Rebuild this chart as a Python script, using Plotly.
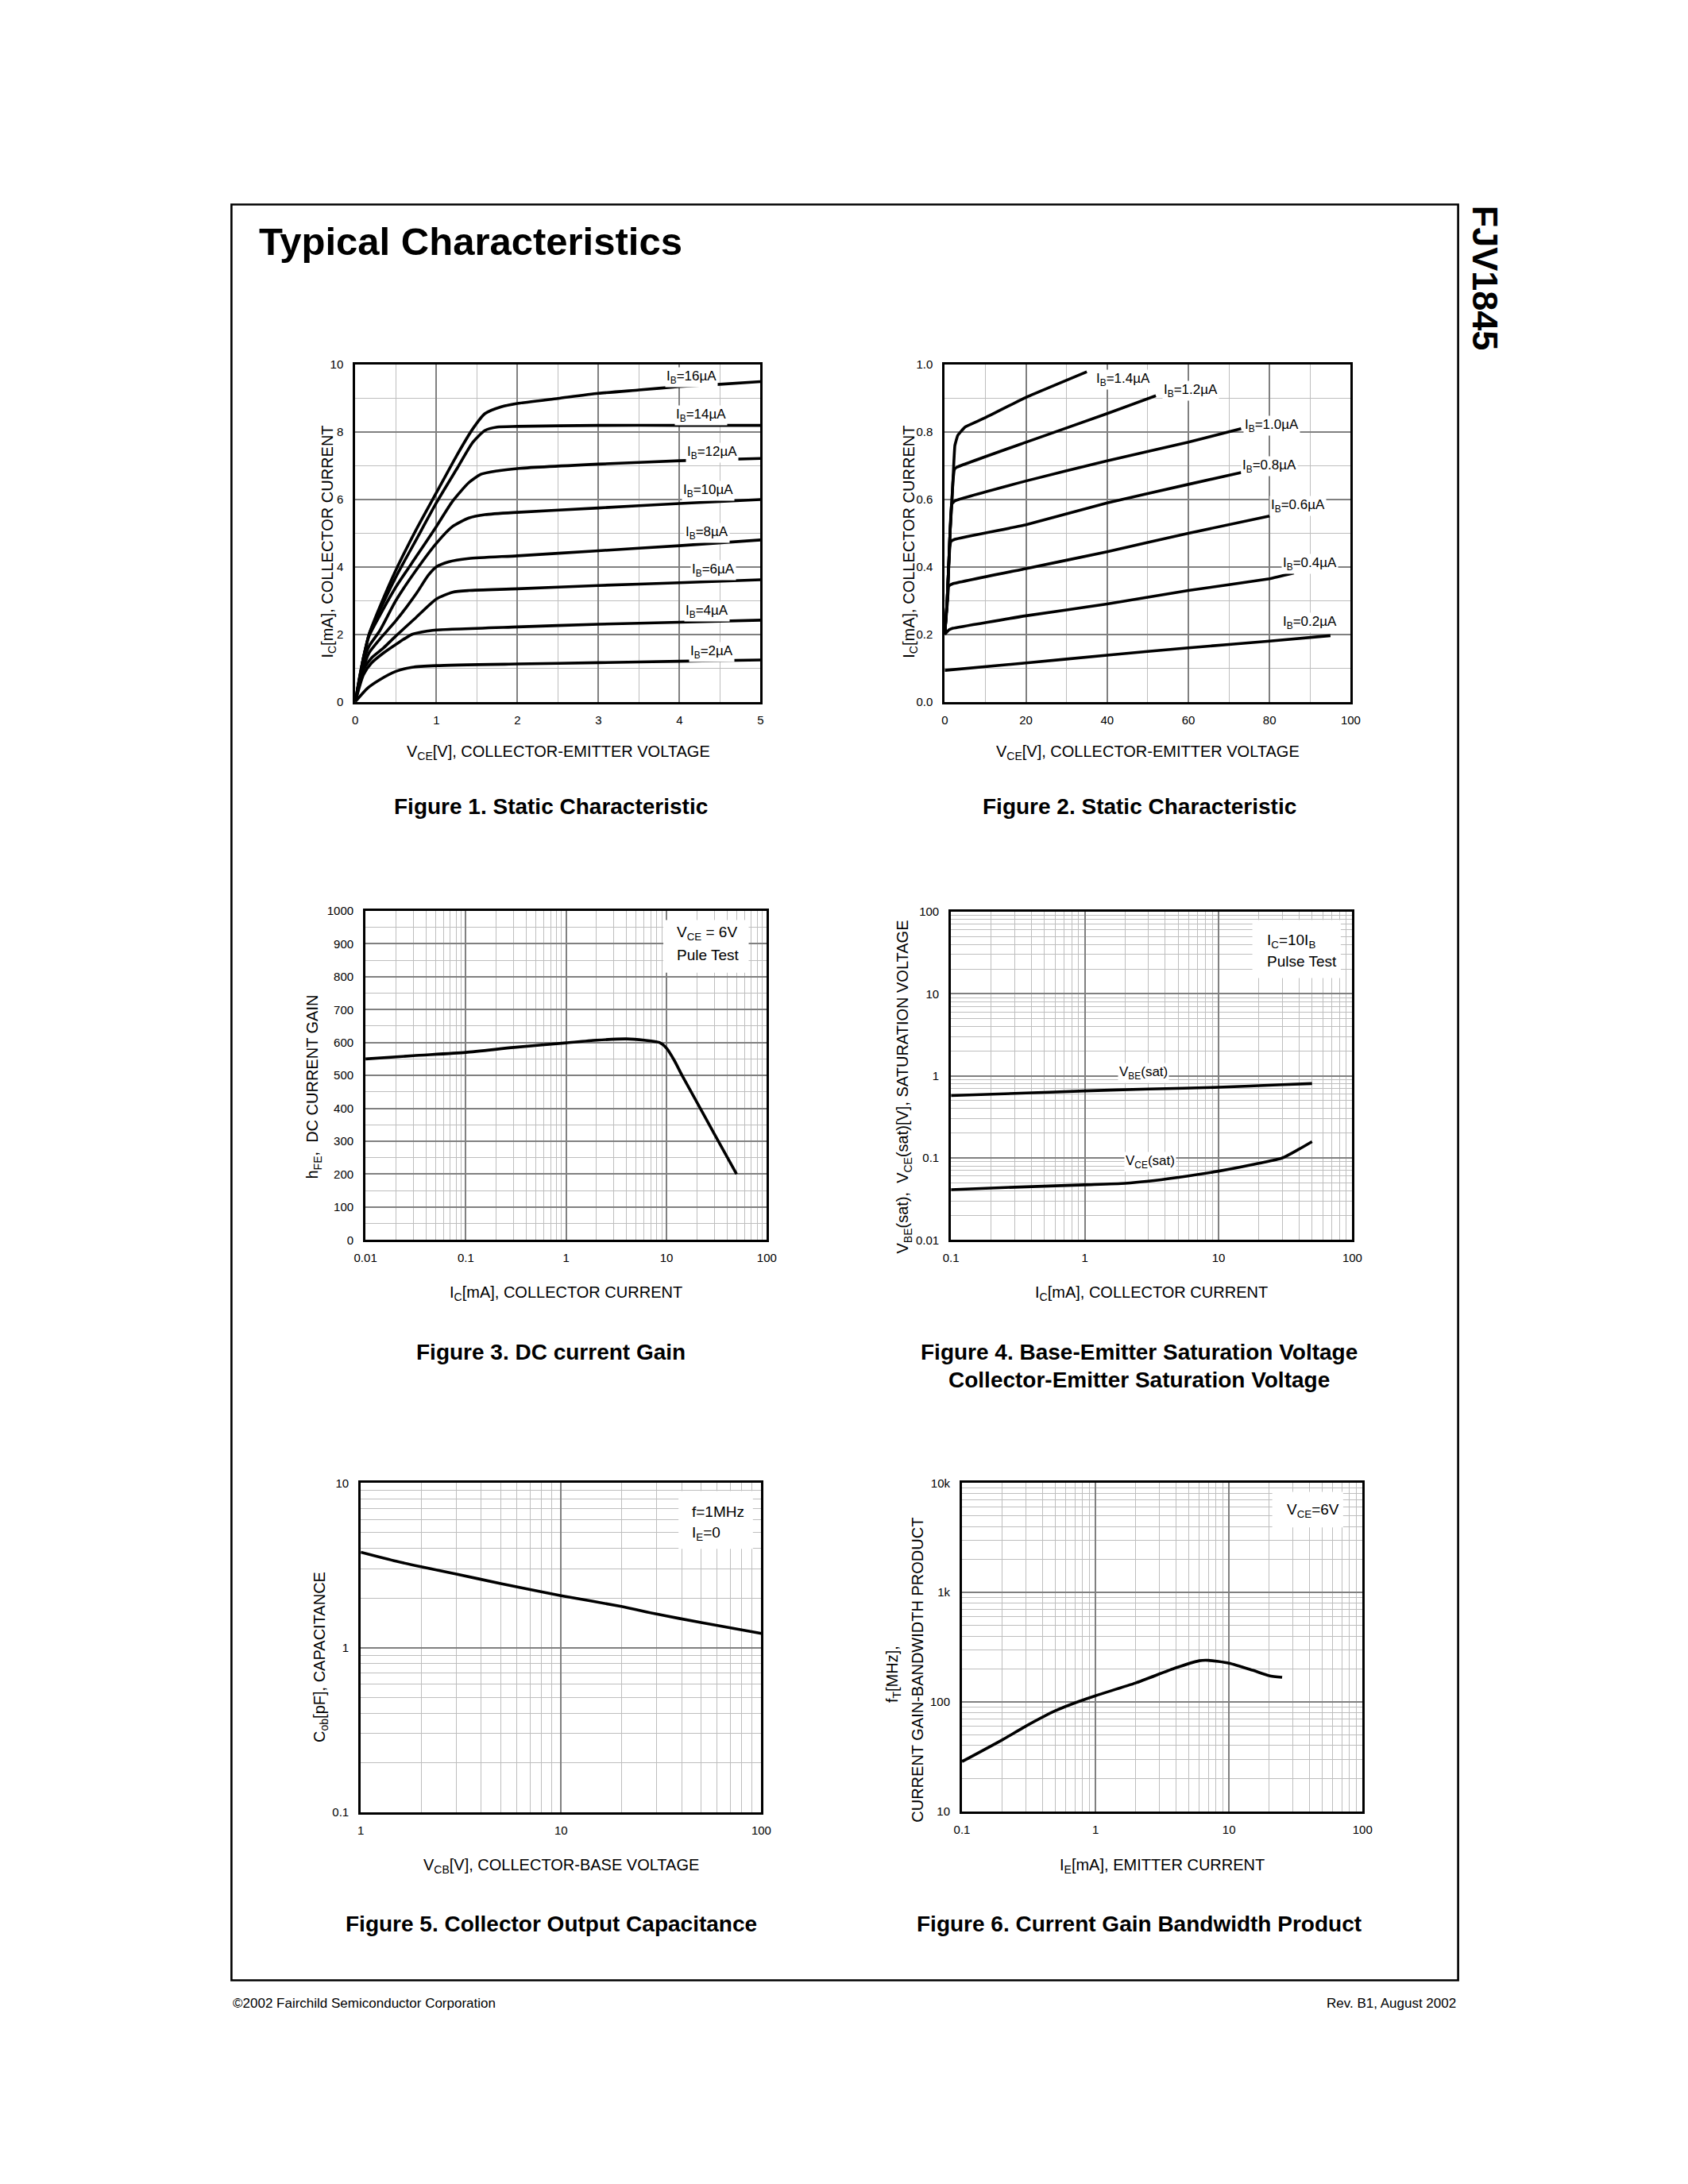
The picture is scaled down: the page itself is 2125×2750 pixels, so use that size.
import math
import plotly.graph_objects as go

PAGE_W, PAGE_H = 2125, 2750
OFF = 8  # default body margin of the page around the figure
W, H = PAGE_W - 2 * OFF, PAGE_H - 2 * OFF
FONT = "Liberation Sans, Arial, sans-serif"

# ---------------- Figure 1 data: IC vs VCE (0..5 V) ----------------
F1_VCE_16 = [0, 0.05, 0.1, 0.17, 0.3, 0.5, 0.75, 1.0, 1.25, 1.45, 1.6, 1.8, 2.0, 2.5, 3, 3.5, 4, 4.5, 5]
F1_IC_16 = [0, 0.7, 1.3, 2.0, 2.8, 3.9, 5.1, 6.2, 7.3, 8.1, 8.55, 8.75, 8.85, 9.0, 9.15, 9.25, 9.35, 9.42, 9.5]
F1_VCE_14 = [0, 0.1, 0.17, 0.3, 0.5, 0.75, 1.0, 1.25, 1.45, 1.6, 1.75, 2.0, 3, 4, 5]
F1_IC_14 = [0, 1.3, 2.0, 2.7, 3.7, 4.8, 5.9, 6.9, 7.7, 8.05, 8.15, 8.17, 8.2, 8.2, 8.2]
F1_VCE_12 = [0, 0.1, 0.17, 0.3, 0.5, 0.75, 1.0, 1.2, 1.4, 1.55, 1.75, 2.0, 3, 4, 5]
F1_IC_12 = [0, 1.3, 1.95, 2.55, 3.4, 4.3, 5.2, 5.95, 6.5, 6.75, 6.85, 6.92, 7.05, 7.15, 7.22]
F1_VCE_10 = [0, 0.1, 0.17, 0.3, 0.5, 0.75, 1.0, 1.2, 1.4, 1.6, 2.0, 3, 4, 5]
F1_IC_10 = [0, 1.2, 1.65, 2.1, 3.0, 3.9, 4.7, 5.2, 5.45, 5.55, 5.62, 5.75, 5.88, 6.0]
F1_VCE_8 = [0, 0.1, 0.17, 0.3, 0.5, 0.75, 0.9, 1.0, 1.15, 1.4, 2, 3, 4, 5]
F1_IC_8 = [0, 1.0, 1.45, 1.85, 2.4, 3.2, 3.75, 4.0, 4.15, 4.25, 4.33, 4.48, 4.63, 4.8]
F1_VCE_6 = [0, 0.1, 0.2, 0.35, 0.5, 0.75, 1.0, 1.2, 1.4, 2, 3, 4, 5]
F1_IC_6 = [0, 0.95, 1.3, 1.6, 1.95, 2.5, 3.05, 3.25, 3.3, 3.35, 3.45, 3.53, 3.62]
F1_VCE_4 = [0, 0.1, 0.2, 0.35, 0.5, 0.7, 0.9, 1.0, 2, 3, 4, 5]
F1_IC_4 = [0, 0.8, 1.15, 1.45, 1.7, 2.0, 2.1, 2.13, 2.22, 2.3, 2.36, 2.42]
F1_VCE_2 = [0, 0.15, 0.3, 0.5, 0.7, 1.0, 2, 3, 4, 5]
F1_IC_2 = [0, 0.4, 0.65, 0.9, 1.02, 1.07, 1.12, 1.16, 1.2, 1.24]
F1_LABELS = ["16", "14", "12", "10", "8", "6", "4", "2"]
F1_LABEL_X = [4.15, 4.27, 4.4, 4.35, 4.34, 4.42, 4.34, 4.4]
F1_LABEL_Y = [9.62, 8.5, 7.4, 6.27, 5.0, 3.9, 2.68, 1.48]

# ---------------- Figure 2 data: IC vs VCE (0..100 V) ----------------
F2_VCE_14 = [0, 0.6, 1.3, 1.8, 2.2, 2.5, 3.2, 5, 8, 10, 20, 35]
F2_IC_14 = [0.2, 0.3, 0.5, 0.6, 0.7, 0.76, 0.79, 0.815, 0.832, 0.843, 0.903, 0.979]
F2_VCE_12 = [0, 0.6, 1.3, 2.0, 2.4, 3, 20, 40, 52]
F2_IC_12 = [0.2, 0.3, 0.5, 0.65, 0.69, 0.696, 0.77, 0.855, 0.908]
F2_VCE_10 = [0, 0.6, 1.3, 1.7, 2.5, 20, 40, 60, 73]
F2_IC_10 = [0.2, 0.3, 0.5, 0.586, 0.596, 0.655, 0.715, 0.77, 0.81]
F2_VCE_08 = [0, 0.6, 1.2, 1.5, 2.5, 20, 40, 60, 73]
F2_IC_08 = [0.2, 0.3, 0.45, 0.475, 0.482, 0.525, 0.59, 0.645, 0.68]
F2_VCE_06 = [0, 0.7, 1.0, 2, 20, 40, 60, 80]
F2_IC_06 = [0.2, 0.3, 0.343, 0.35, 0.395, 0.445, 0.5, 0.551]
F2_VCE_04 = [0, 1, 2, 20, 40, 60, 80, 86]
F2_IC_04 = [0.2, 0.213, 0.218, 0.255, 0.29, 0.33, 0.365, 0.382]
F2_VCE_02 = [0, 20, 40, 60, 80, 95]
F2_IC_02 = [0.093, 0.115, 0.138, 0.16, 0.18, 0.196]
F2_LABELS = ["1.4", "1.2", "1.0", "0.8", "0.6", "0.4", "0.2"]
F2_LABEL_X = [44, 60.5, 80.5, 80, 87, 90, 90]
F2_LABEL_Y = [0.955, 0.922, 0.818, 0.70, 0.582, 0.41, 0.235]

# ---------------- Figure 3 data: hFE vs IC ----------------
F3_IC = [0.01, 0.03, 0.1, 0.3, 1, 2, 4, 6, 8.5, 10, 12, 14.3, 20, 30, 50]
F3_HFE = [550, 560, 570, 585, 599, 607, 611, 607, 600, 583, 545, 500, 420, 322, 200]

# ---------------- Figure 4 data: saturation voltages vs IC ----------------
F4_IC_BE = [0.1, 0.3, 1, 3, 10, 30, 50]
F4_VBE = [0.575, 0.61, 0.655, 0.69, 0.725, 0.78, 0.805]
F4_IC_CE = [0.1, 0.3, 1, 2, 3, 5, 10, 20, 30, 40, 50]
F4_VCE = [0.041, 0.044, 0.047, 0.049, 0.052, 0.058, 0.069, 0.086, 0.1, 0.128, 0.158]

# ---------------- Figure 5 data: Cob vs VCB ----------------
F5_VCB = [1, 1.5, 2, 3, 5, 10, 20, 30, 50, 100]
F5_COB = [3.8, 3.35, 3.1, 2.8, 2.45, 2.07, 1.78, 1.6, 1.42, 1.22]

# ---------------- Figure 6 data: fT vs IE ----------------
F6_IE = [0.1, 0.2, 0.3, 0.5, 0.7, 1, 2, 4, 6, 7, 10, 15, 20, 25]
F6_FT = [28.5, 45, 60, 83, 98, 114, 149, 205, 238, 240, 226, 195, 174, 168]

# ---------------- tick labels ----------------
F1_XTICKS = [0, 1, 2, 3, 4, 5]
F1_YTICKS = [0, 2, 4, 6, 8, 10]
F2_XTICKS = [0, 20, 40, 60, 80, 100]
F2_YTICKS = [0.0, 0.2, 0.4, 0.6, 0.8, 1.0]
F2_YTICKTEXT = ["0.0", "0.2", "0.4", "0.6", "0.8", "1.0"]
F3_XTICKS = [0.01, 0.1, 1, 10, 100]
F3_XTICKTEXT = ["0.01", "0.1", "1", "10", "100"]
F3_YTICKS = [0, 100, 200, 300, 400, 500, 600, 700, 800, 900, 1000]
F4_XTICKS = [0.1, 1, 10, 100]
F4_XTICKTEXT = ["0.1", "1", "10", "100"]
F4_YTICKS = [0.01, 0.1, 1, 10, 100]
F4_YTICKTEXT = ["0.01", "0.1", "1", "10", "100"]
F5_XTICKS = [1, 10, 100]
F5_XTICKTEXT = ["1", "10", "100"]
F5_YTICKS = [0.1, 1, 10]
F5_YTICKTEXT = ["0.1", "1", "10"]
F6_XTICKS = [0.1, 1, 10, 100]
F6_XTICKTEXT = ["0.1", "1", "10", "100"]
F6_YTICKS = [10, 100, 1000, 10000]
F6_YTICKTEXT = ["10", "100", "1k", "10k"]

# ---------------- layout geometry (page pixels: left, top, right, bottom) ----------------
BOXES = {
    1: (438, 453, 955, 880),
    2: (1190, 453, 1708, 880),
    3: (451, 1145, 963, 1562),
    4: (1198, 1146, 1710, 1562),
    5: (445, 1870, 956, 2287),
    6: (1212, 1870, 1723, 2286),
}

MAJOR = "#808080"
MINOR = "#bebebe"


def xd(px):
    return (px - OFF) / W


def yd(py):
    return 1 - (py - OFF) / H


def log_minors(lo, hi):
    vals = []
    for e in range(lo, hi):
        for m in range(2, 10):
            vals.append(m * 10 ** e)
    return vals


fig = go.Figure()


def curve(x, y, n, smooth=0.6):
    fig.add_trace(go.Scatter(
        x=x, y=y, mode="lines",
        line=dict(color="black", width=3.6, shape="spline", smoothing=smooth),
        xaxis="x" if n == 1 else "x%d" % n,
        yaxis="y" if n == 1 else "y%d" % n,
        showlegend=False, hoverinfo="skip"))


for xs, ys in [(F1_VCE_16, F1_IC_16), (F1_VCE_14, F1_IC_14), (F1_VCE_12, F1_IC_12),
               (F1_VCE_10, F1_IC_10), (F1_VCE_8, F1_IC_8), (F1_VCE_6, F1_IC_6),
               (F1_VCE_4, F1_IC_4), (F1_VCE_2, F1_IC_2)]:
    curve(xs, ys, 1)
for xs, ys in [(F2_VCE_14, F2_IC_14), (F2_VCE_12, F2_IC_12), (F2_VCE_10, F2_IC_10),
               (F2_VCE_08, F2_IC_08), (F2_VCE_06, F2_IC_06), (F2_VCE_04, F2_IC_04),
               (F2_VCE_02, F2_IC_02)]:
    curve(xs, ys, 2, smooth=0.3)
curve(F3_IC, F3_HFE, 3)
curve(F4_IC_BE, F4_VBE, 4)
curve(F4_IC_CE, F4_VCE, 4)
curve(F5_VCB, F5_COB, 5)
curve(F6_IE, F6_FT, 6)

TICKFONT = dict(family=FONT, size=15, color="black")
MINOR_STYLE = dict(showgrid=True, gridcolor=MINOR, gridwidth=1.2)


def axis_common():
    return dict(showline=True, linecolor="black", linewidth=3, mirror=True,
                showgrid=True, gridcolor=MAJOR, gridwidth=2.4, zeroline=False,
                ticks="", tickfont=TICKFONT, fixedrange=True, layer="below traces")


layout_axes = {}
for n, (l, t, r, b) in BOXES.items():
    xa = axis_common()
    ya = axis_common()
    xa.update(domain=[xd(l), xd(r)], anchor="y" if n == 1 else "y%d" % n, ticklabelstandoff=7)
    ya.update(domain=[yd(b), yd(t)], anchor="x" if n == 1 else "x%d" % n, ticklabelstandoff=9)
    layout_axes[n] = (xa, ya)

# figure 1
xa, ya = layout_axes[1]
xa.update(range=[0, 5], tickvals=F1_XTICKS, minor=dict(dtick=0.5, **MINOR_STYLE))
ya.update(range=[0, 10], tickvals=F1_YTICKS, minor=dict(dtick=1, **MINOR_STYLE))
# figure 2
xa, ya = layout_axes[2]
xa.update(range=[0, 100], tickvals=F2_XTICKS, minor=dict(dtick=10, **MINOR_STYLE))
ya.update(range=[0, 1.0], tickvals=F2_YTICKS, ticktext=F2_YTICKTEXT,
          minor=dict(dtick=0.1, **MINOR_STYLE))
# figure 3
xa, ya = layout_axes[3]
xa.update(type="log", range=[-2, 2], tickvals=F3_XTICKS, ticktext=F3_XTICKTEXT,
          minor=dict(tickvals=log_minors(-2, 2), **MINOR_STYLE))
ya.update(range=[0, 1000], tickvals=F3_YTICKS, minor=dict(dtick=50, **MINOR_STYLE))
# figure 4
xa, ya = layout_axes[4]
xa.update(type="log", range=[-1, 2], tickvals=F4_XTICKS, ticktext=F4_XTICKTEXT,
          minor=dict(tickvals=log_minors(-1, 2), **MINOR_STYLE))
ya.update(type="log", range=[-2, 2], tickvals=F4_YTICKS, ticktext=F4_YTICKTEXT,
          minor=dict(tickvals=log_minors(-2, 2), **MINOR_STYLE))
# figure 5
xa, ya = layout_axes[5]
xa.update(type="log", range=[0, 2], tickvals=F5_XTICKS, ticktext=F5_XTICKTEXT,
          minor=dict(tickvals=log_minors(0, 2), **MINOR_STYLE))
ya.update(type="log", range=[-1, 1], tickvals=F5_YTICKS, ticktext=F5_YTICKTEXT,
          minor=dict(tickvals=log_minors(-1, 1), **MINOR_STYLE))
# figure 6
xa, ya = layout_axes[6]
xa.update(type="log", range=[-1, 2], tickvals=F6_XTICKS, ticktext=F6_XTICKTEXT,
          minor=dict(tickvals=log_minors(-1, 2), **MINOR_STYLE))
ya.update(type="log", range=[1, 4], tickvals=F6_YTICKS, ticktext=F6_YTICKTEXT,
          minor=dict(tickvals=log_minors(1, 4), **MINOR_STYLE))

annotations = []
shapes = []


def txt(x, y, text, size, bold=False, xanchor="center", yanchor="middle", angle=0,
        xref="paper", yref="paper", bg=None, align="center"):
    if bold:
        text = "<b>" + text + "</b>"
    a = dict(x=x, y=y, xref=xref, yref=yref, text=text, showarrow=False,
             font=dict(family=FONT, size=size, color="black"),
             xanchor=xanchor, yanchor=yanchor, textangle=angle, align=align)
    if bg:
        a.update(bgcolor=bg, borderpad=1)
    annotations.append(a)


# page frame
shapes.append(dict(type="rect", xref="paper", yref="paper",
                   x0=xd(280), x1=xd(1845), y0=yd(2500), y1=yd(250),
                   line=dict(color="black", width=2.6), fillcolor="rgba(0,0,0,0)"))

# headings and footer
txt(xd(313), yd(297), "Typical Characteristics", 49, bold=True, xanchor="left")
txt(xd(1879), yd(343), "FJV1845", 45, bold=True, angle=90)
txt(xd(280), yd(2529), "©2002 Fairchild Semiconductor Corporation", 17, xanchor="left")
txt(xd(1844), yd(2529), "Rev. B1, August 2002", 17, xanchor="right")

# captions
CAP = 28
txt(xd(688), yd(1013), "Figure 1. Static Characteristic", CAP, bold=True)
txt(xd(1438), yd(1013), "Figure 2. Static Characteristic", CAP, bold=True)
txt(xd(688), yd(1704), "Figure 3. DC current Gain", CAP, bold=True)
txt(xd(1438), yd(1704), "Figure 4. Base-Emitter Saturation Voltage", CAP, bold=True)
txt(xd(1438), yd(1739), "Collector-Emitter Saturation Voltage", CAP, bold=True)
txt(xd(688), yd(2429), "Figure 5. Collector Output Capacitance", CAP, bold=True)
txt(xd(1438), yd(2429), "Figure 6. Current Gain Bandwidth Product", CAP, bold=True)

# axis titles
AT = 20
txt(xd(697), yd(944), "V<sub>CE</sub>[V], COLLECTOR-EMITTER VOLTAGE", AT)
txt(xd(1449), yd(944), "V<sub>CE</sub>[V], COLLECTOR-EMITTER VOLTAGE", AT)
txt(xd(707), yd(1630), "I<sub>C</sub>[mA], COLLECTOR CURRENT", AT)
txt(xd(1454), yd(1630), "I<sub>C</sub>[mA], COLLECTOR CURRENT", AT)
txt(xd(701), yd(2355), "V<sub>CB</sub>[V], COLLECTOR-BASE VOLTAGE", AT)
txt(xd(1467), yd(2355), "I<sub>E</sub>[mA], EMITTER CURRENT", AT)
txt(xd(404), yd(677), "I<sub>C</sub>[mA], COLLECTOR CURRENT", AT, angle=-90)
txt(xd(1146), yd(677), "I<sub>C</sub>[mA], COLLECTOR CURRENT", AT, angle=-90)
txt(xd(385), yd(1368), "h<sub>FE</sub>,  DC CURRENT GAIN", AT, angle=-90)
txt(xd(1138), yd(1368), "V<sub>BE</sub>(sat),  V<sub>CE</sub>(sat)[V], SATURATION VOLTAGE", AT, angle=-90)
txt(xd(393), yd(2090), "C<sub>ob</sub>[pF], CAPACITANCE", AT, angle=-90)
txt(xd(1125), yd(2112), "f<sub>T</sub>[MHz],", AT, angle=-90)
txt(xd(1155), yd(2107), "CURRENT GAIN-BANDWIDTH PRODUCT", AT, angle=-90)

# curve labels figure 1 / 2
LF = 17
for lab, lx, ly in zip(F1_LABELS, F1_LABEL_X, F1_LABEL_Y):
    txt(lx, ly, "I<sub>B</sub>=%sµA" % lab, LF, xref="x", yref="y", bg="white")
for lab, lx, ly in zip(F2_LABELS, F2_LABEL_X, F2_LABEL_Y):
    txt(lx, ly, "I<sub>B</sub>=%sµA" % lab, LF, xref="x2", yref="y2", bg="white")

# figure 4 curve labels (log axes -> log10 positions)
txt(math.log10(2.74), math.log10(1.09), "V<sub>BE</sub>(sat)", LF, xref="x4", yref="y4", bg="white")
txt(math.log10(3.1), math.log10(0.089), "V<sub>CE</sub>(sat)", LF, xref="x4", yref="y4", bg="white")


def frac(v, lo, hi, log=True):
    return ((math.log10(v) if log else v) - lo) / (hi - lo)


def note_box(n, x0, x1, y0, y1, xlog, ylog, xr, yr):
    sfx = "" if n == 1 else str(n)
    shapes.append(dict(type="rect", xref="x%s domain" % sfx, yref="y%s domain" % sfx,
                       x0=frac(x0, *xr, log=xlog), x1=frac(x1, *xr, log=xlog),
                       y0=frac(y0, *yr, log=ylog), y1=frac(y1, *yr, log=ylog),
                       line=dict(width=0), fillcolor="white", layer="above"))


NF = 19
# figure 3 note
note_box(3, 9.3, 66, 812, 972, True, False, (-2, 2), (0, 1000))
txt(math.log10(12.2), 932, "V<sub>CE</sub> = 6V", NF, xref="x3", yref="y3", xanchor="left")
txt(math.log10(12.2), 866, "Pule Test", NF, xref="x3", yref="y3", xanchor="left")
# figure 4 note
note_box(4, 17.9, 82, 15.5, 79, True, True, (-1, 2), (-2, 2))
txt(math.log10(22.4), math.log10(44), "I<sub>C</sub>=10I<sub>B</sub>", NF, xref="x4", yref="y4", xanchor="left")
txt(math.log10(22.4), math.log10(24.6), "Pulse Test", NF, xref="x4", yref="y4", xanchor="left")
# figure 5 note
note_box(5, 38.6, 90.8, 3.98, 8.95, True, True, (0, 2), (-1, 1))
txt(math.log10(44), math.log10(6.67), "f=1MHz", NF, xref="x5", yref="y5", xanchor="left")
txt(math.log10(44), math.log10(4.93), "I<sub>E</sub>=0", NF, xref="x5", yref="y5", xanchor="left")
# figure 6 note
note_box(6, 21.1, 71.6, 3935, 8320, True, True, (-1, 2), (1, 4))
txt(math.log10(26.3), math.log10(5650), "V<sub>CE</sub>=6V", NF, xref="x6", yref="y6", xanchor="left")

layout = dict(width=W, height=H, margin=dict(l=0, r=0, t=0, b=0),
              paper_bgcolor="white", plot_bgcolor="white",
              font=dict(family=FONT, color="black"),
              annotations=annotations, shapes=shapes, showlegend=False)
for n, (xa, ya) in layout_axes.items():
    layout["xaxis" if n == 1 else "xaxis%d" % n] = xa
    layout["yaxis" if n == 1 else "yaxis%d" % n] = ya

fig.update_layout(**layout)
fig.write_html("out.html")
